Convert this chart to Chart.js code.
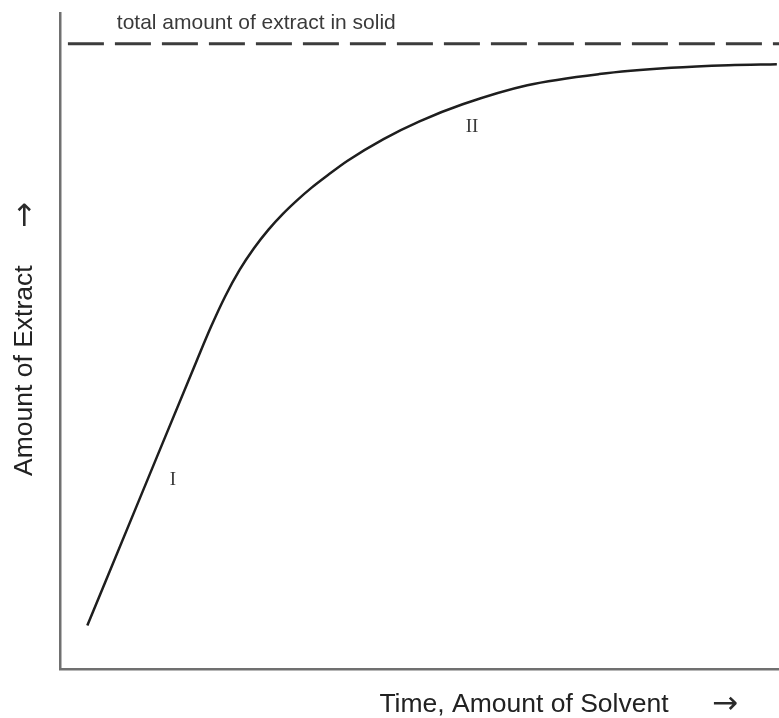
<!DOCTYPE html>
<html>
<head>
<meta charset="utf-8">
<title>Extraction curve</title>
<script src="https://cdn.jsdelivr.net/npm/chart.js@4/dist/chart.umd.min.js"></script>
<style>
  html, body { margin: 0; padding: 0; background: #ffffff; }
  canvas { display: block; }
</style>
</head>
<body>
<canvas id="chart" width="779" height="718"></canvas>
<script>
// Extraction curve: amount extracted vs. time / solvent used (relative units 0-100)
const extractTime   = [3.8, 11.0, 19.0, 21.0, 23.0, 25.0, 27.0, 29.0, 31.0, 33.0, 35.0, 37.0, 40.0, 45.0, 50.0, 56.0, 65.0, 75.0, 85.0, 93.0, 99.7];
const extractAmount = [6.7, 25.8, 47.0, 52.2, 56.9, 60.9, 64.2, 67.0, 69.4, 71.5, 73.4, 75.1, 77.5, 80.8, 83.5, 86.1, 89.0, 90.7, 91.65, 92.05, 92.2];

// Total extractable amount held in the solid (asymptote)
const totalExtract = 95.3;
const totalLineStart = 1.1;
const totalLineEnd = 100;

// Text notes placed in data coordinates
const noteText = ['total amount of extract in solid', 'I', 'II'];
const noteX    = [27.3, 15.7, 57.3];
const noteY    = [98.4, 28.9, 82.7];
const noteFont = ['21px "Liberation Sans", Arial, sans-serif',
                  '19px "Liberation Serif", "Times New Roman", serif',
                  '19px "Liberation Serif", "Times New Roman", serif'];

// Axis titles (trailing room is left for the direction arrows)
const xTitle = 'Time, Amount of Solvent' + ' '.repeat(15);
const yTitle = 'Amount of Extract' + ' '.repeat(8);
const arrowGlyph = '\u2192';

const curvePoints = extractTime.map((t, i) => ({ x: t, y: extractAmount[i] }));
const totalPoints = [{ x: totalLineStart, y: totalExtract }, { x: totalLineEnd, y: totalExtract }];

const notesPlugin = {
  id: 'notes',
  afterDatasetsDraw(chart) {
    const { ctx, chartArea, scales: { x, y } } = chart;
    ctx.save();
    ctx.fillStyle = '#3a3a3a';
    ctx.textAlign = 'center';
    ctx.textBaseline = 'middle';
    noteText.forEach((txt, i) => {
      ctx.font = noteFont[i];
      ctx.fillText(txt, x.getPixelForValue(noteX[i]), y.getPixelForValue(noteY[i]));
    });

    // direction arrows after the axis titles
    ctx.fillStyle = '#2a2a2a';
    ctx.font = '31px "DejaVu Sans", sans-serif';
    ctx.fillText(arrowGlyph, chartArea.right - 54, chartArea.bottom + 35);
    ctx.translate(chartArea.left - 34, chartArea.top + 202);
    ctx.rotate(-Math.PI / 2);
    ctx.fillText(arrowGlyph, 0, 0);
    ctx.restore();
  }
};

const axisFont = { family: '"Liberation Sans", Arial, sans-serif', size: 26.5, lineHeight: 1 };

new Chart(document.getElementById('chart'), {
  type: 'scatter',
  data: {
    datasets: [
      {
        data: curvePoints,
        showLine: true,
        borderColor: '#1e1e1e',
        borderWidth: 2.5,
        pointRadius: 0,
        cubicInterpolationMode: 'monotone'
      },
      {
        data: totalPoints,
        showLine: true,
        borderColor: '#3c3c3c',
        borderWidth: 3,
        borderDash: [36, 11],
        pointRadius: 0
      }
    ]
  },
  options: {
    responsive: false,
    devicePixelRatio: 1,
    animation: false,
    layout: { padding: { top: 13, right: 0, bottom: 0, left: 0 } },
    plugins: {
      legend: { display: false },
      tooltip: { enabled: false }
    },
    scales: {
      x: {
        type: 'linear',
        min: 0,
        max: 100,
        grid: { display: false, drawTicks: false },
        ticks: { display: false },
        border: { display: true, color: '#707070', width: 2.5 },
        title: {
          display: true,
          text: xTitle,
          align: 'end',
          color: '#222222',
          font: axisFont,
          padding: { top: 22, bottom: 0 }
        }
      },
      y: {
        type: 'linear',
        min: 0,
        max: 100,
        grid: { display: false, drawTicks: false },
        ticks: { display: false },
        border: { display: true, color: '#707070', width: 2.5 },
        title: {
          display: true,
          text: yTitle,
          color: '#222222',
          font: axisFont,
          padding: { top: 11, bottom: 22.5 }
        }
      }
    }
  },
  plugins: [notesPlugin]
});
</script>
</body>
</html>
